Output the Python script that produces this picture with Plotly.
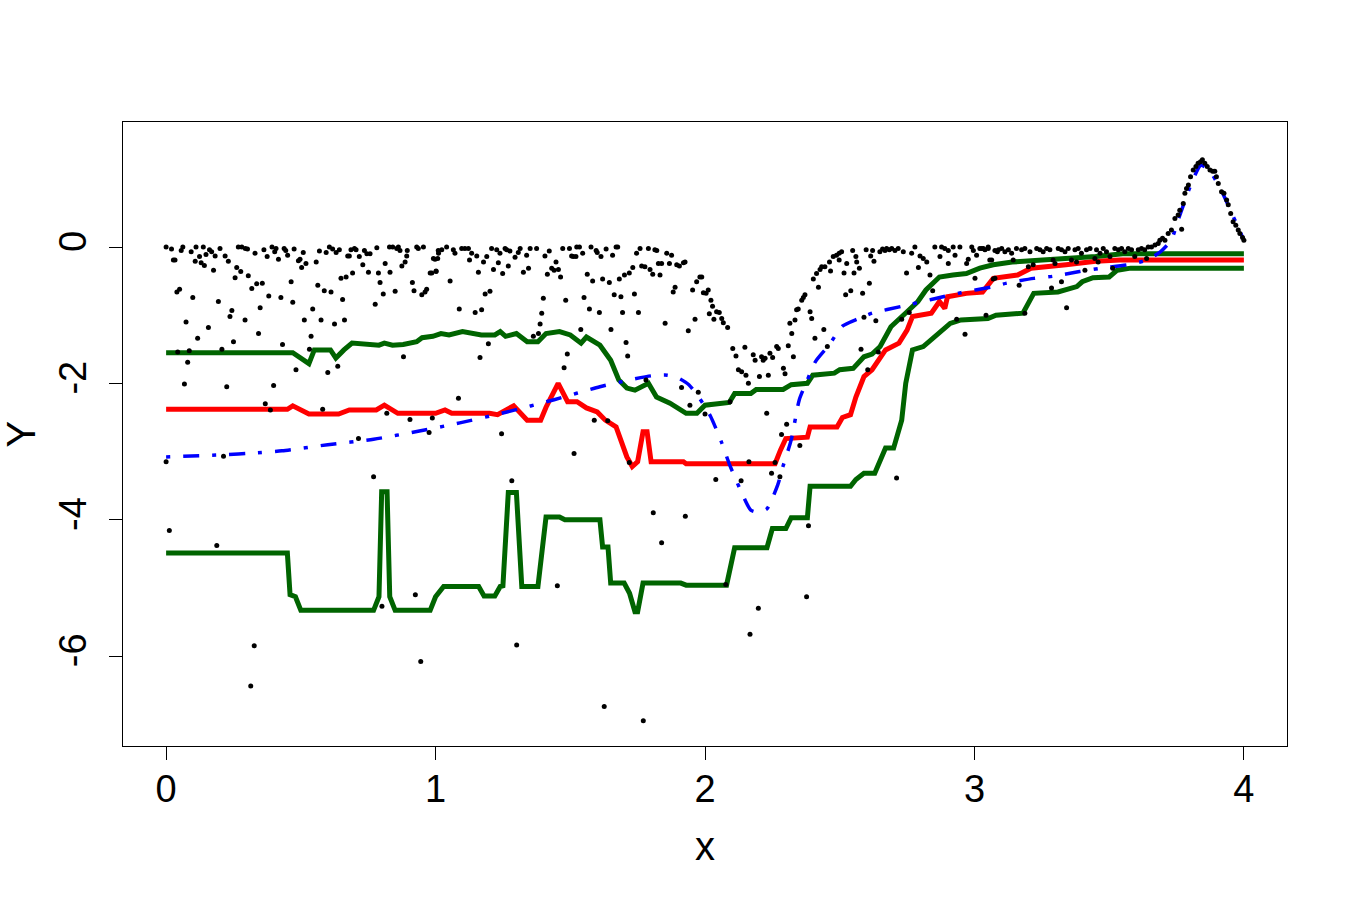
import plotly.graph_objects as go

# ---------------- data ----------------
obs_x = [
    0.00, 0.02, 0.027, 0.033, 0.04, 0.05, 0.056, 0.062, 0.043, 0.068, 0.074, 0.080, 0.086, 0.093, 0.099, 0.108,
    0.111, 0.117, 0.124, 0.130, 0.138, 0.142, 0.148, 0.157, 0.161, 0.169, 0.176, 0.182, 0.194, 0.200, 0.207,
    0.219, 0.225, 0.231, 0.237, 0.244, 0.250, 0.256, 0.262, 0.268, 0.277, 0.281, 0.293, 0.294, 0.302, 0.305,
    0.318, 0.330, 0.336, 0.343, 0.349, 0.357, 0.363, 0.368, 0.375, 0.381, 0.387, 0.393, 0.399, 0.403, 0.408,
    0.417, 0.426, 0.432, 0.438, 0.444, 0.451, 0.464, 0.470, 0.475, 0.482, 0.491, 0.497, 0.503, 0.509, 0.513,
    0.519, 0.532, 0.538, 0.544, 0.557, 0.563, 0.569, 0.575, 0.581, 0.587, 0.594, 0.600, 0.606, 0.612, 0.618,
    0.625, 0.631, 0.637, 0.643, 0.649, 0.655, 0.662, 0.668, 0.674, 0.680, 0.686, 0.692, 0.699, 0.705, 0.717,
    0.730, 0.736, 0.745, 0.751, 0.757, 0.776, 0.782, 0.788, 0.794, 0.806, 0.813, 0.819, 0.829, 0.831, 0.841,
    0.850, 0.856, 0.862, 0.868, 0.875, 0.881, 0.887, 0.893, 0.895, 0.905, 0.914, 0.920, 0.930, 0.936, 0.949,
    0.955, 0.961, 0.967, 0.980, 0.988, 0.998, 1.002, 1.008, 1.010,
    0.00, 0.012, 0.188, 0.213, 0.314, 0.327, 0.714, 0.770, 0.801, 0.925, 0.945, 0.976,
    0.986, 1.002, 0.992, 1.011, 1.023, 1.041, 1.054, 1.066, 1.072, 1.085, 1.088, 1.097, 1.109, 1.122, 1.126,
    1.134, 1.147, 1.153, 1.159, 1.165, 1.171, 1.178, 1.184, 1.190, 1.196, 1.202, 1.208, 1.215, 1.227, 1.233,
    1.239, 1.249, 1.258, 1.264, 1.270, 1.276, 1.295, 1.307, 1.314, 1.326, 1.338, 1.345, 1.351, 1.363, 1.375,
    1.382, 1.388, 1.394, 1.400, 1.406, 1.415, 1.422, 1.431, 1.440, 1.447, 1.456, 1.464, 1.472, 1.477, 1.483,
    1.489, 1.497, 1.505, 1.511, 1.521, 1.524, 1.534, 1.539, 1.546, 1.551, 1.563, 1.571, 1.577, 1.583, 1.589,
    1.596, 1.600, 1.608, 1.614, 1.620, 1.633, 1.639, 1.645, 1.651, 1.657, 1.663, 1.670, 1.676, 1.682, 1.688,
    1.694, 1.701, 1.707, 1.713, 1.719, 1.732, 1.738, 1.746, 1.753, 1.759, 1.765, 1.777, 1.781, 1.790, 1.796,
    1.806, 1.814, 1.821, 1.827, 1.833, 1.839, 1.852, 1.858, 1.868, 1.876, 1.882, 1.889, 1.895, 1.905, 1.913,
    1.920, 1.926, 1.938, 1.944, 1.954, 1.963, 1.969, 1.975, 1.981, 1.988, 1.994, 2.004, 2.012, 2.016, 2.022,
    2.028, 2.033, 2.043, 2.053, 2.062, 2.068, 2.084, 2.093, 2.103, 2.115, 2.124, 2.136, 2.148, 2.152, 2.161,
    2.000,
    1.245, 1.283, 1.301, 1.452, 1.514, 1.719, 1.626, 1.771, 1.808, 1.839, 1.927, 2.040, 2.077, 2.134, 2.163,
    2.167,
    2.198, 2.247, 2.260, 2.278, 2.284, 2.303, 2.352, 2.377, 2.384, 2.711,
    2.179, 2.186, 2.202, 2.210, 2.216, 2.223, 2.229, 2.235, 2.241, 2.251, 2.266, 2.272, 2.291, 2.297, 2.309,
    2.315, 2.322, 2.328, 2.334, 2.340, 2.346, 2.359, 2.365, 2.371, 2.390, 2.396, 2.408, 2.402, 2.414, 2.421,
    2.427, 2.441, 2.433, 2.445, 2.454, 2.462, 2.466, 2.476, 2.488, 2.498, 2.507, 2.498, 2.516, 2.522, 2.526,
    2.541, 2.548, 2.553, 2.560, 2.563, 2.573, 2.579, 2.585, 2.590, 2.598, 2.604, 2.610, 2.615, 2.622, 2.627,
    2.634, 2.643, 2.649, 2.659, 2.668, 2.674, 2.684, 2.693, 2.705, 2.717, 2.730, 2.736, 2.748, 2.758, 2.767,
    2.779, 2.792, 2.798, 2.810, 2.823, 2.835, 2.845, 2.853, 2.872, 2.878, 2.890, 2.903, 2.903, 2.921, 2.928,
    2.934, 2.946, 2.965, 2.971, 2.977, 2.990, 2.996, 3.002, 3.008, 3.020, 3.033, 3.043, 3.051, 3.057, 3.070,
    3.076, 3.085,
    3.027, 3.039, 3.051, 3.064, 3.076, 3.089, 3.101, 3.113, 3.126, 3.138, 3.144, 3.156, 3.166, 3.175, 3.187,
    3.187, 3.200, 3.206, 3.218, 3.231, 3.243, 3.255, 3.268, 3.280, 3.286, 3.292, 3.299, 3.311, 3.323, 3.323,
    3.336, 3.342, 3.348, 3.360, 3.373, 3.379, 3.385, 3.397, 3.410, 3.416, 3.429, 3.447, 3.453, 3.459, 3.466,
    3.478, 3.490, 3.503, 3.513, 3.521, 3.534, 3.546, 3.558, 3.571, 3.583, 3.595, 3.608, 3.620, 3.632, 3.639,
    3.645, 3.657, 3.670, 3.682, 3.688, 3.698, 3.707, 3.719, 3.731, 3.744, 3.756, 3.762, 3.769, 3.775, 3.781,
    3.787, 3.794, 3.802, 3.812, 3.822, 3.830, 3.839, 3.846, 3.855, 3.864, 3.874, 3.884, 3.892, 3.898, 3.905,
    3.917, 3.926, 3.936, 3.942, 3.951, 3.960, 3.970, 3.979, 3.985, 3.995, 4.000,
]
obs_y = [
    0.00, -0.03, -0.19, -0.19, -0.66, -0.62, -0.05, 0.00, -1.54, -2.01, -1.10, -1.69, -1.52, -0.07, -0.74, -0.21,
    0.00, -1.34, -0.14, -0.23, 0.00, -0.27, -0.11, -1.18, -0.04, -0.07, -0.34, -0.13, -0.80, -0.02, -1.50,
    -0.13, -2.05, -0.21, -1.02, -0.93, -1.39, -0.45, -0.30, 0.00, -0.36, 0.00, -1.07, -0.02, -0.03, -0.42,
    -0.61, -0.09, -0.54, -1.27, -0.89, -0.53, -0.04, -2.30, -0.14, -0.72, -2.39, 0.00, -2.03, -0.07, -0.02,
    -0.18, -0.74, -1.43, -0.02, -0.05, -0.12, -0.51, -0.81, -0.03, -1.80, -0.20, -0.18, -0.30, -0.08, -1.07,
    -0.24, -1.50, -1.31, -0.91, -0.22, -0.56, -0.06, -1.07, -2.38, -0.64, -0.08, -1.84, 0.00, -0.66, -0.03,
    -1.13, -0.08, -1.75, -0.04, -0.46, -0.77, -1.07, -0.44, -0.13, -0.13, -0.04, -0.38, -0.02, -0.04, -0.14,
    -0.26, -0.05, -0.10, -0.37, -0.10, -0.84, -0.01, -0.38, -0.52, -0.69, -0.24, -2.44, 0.00, -0.37, 0.00,
    -0.65, -0.02, 0.00, -0.05, -0.28, -1.61, -0.22, -0.13, -0.05, -2.53, -0.52, -0.64, 0.00, -0.02, -0.70,
    0.00, -0.66, -0.62, -0.38, -2.51, -0.18, -0.35, -0.17, -0.05,
    -3.15, -4.16, -4.38, -3.07, -6.44, -5.85, -2.81, -3.37, -5.27, -5.10, -6.08, -2.72,
    -0.38, -0.36, -0.17, -0.09, -0.04, 0.00, -0.50, -0.04, -0.09, -2.22, -0.91, -0.02, -0.02, -0.02, -0.19,
    -0.09, -0.96, -0.13, -0.37, -1.62, -0.92, -0.22, -0.69, -0.14, -1.42, -0.65, -0.02, -0.33, -0.04, -0.23,
    -0.09, -0.39, -0.02, -0.04, -0.28, -0.06, -0.15, -0.08, -0.02, -0.37, -0.12, -0.31, -0.02, -1.31, -0.02,
    -1.27, -1.13, -0.97, -0.75, -0.13, -0.40, -0.06, -0.31, -0.34, -0.22, -0.33, -0.44, -0.02, -1.77, -0.78,
    -1.57, -0.02, -0.13, -0.14, -0.14, 0.00, 0.00, -1.21, -0.09, -0.74, -0.40, -0.91, 0.00, -0.50, -2.54,
    -0.05, -0.08, -0.96, -0.14, -0.47, -0.03, -2.55, -0.52, -1.21, -0.12, -0.70, 0.00, 0.00, -0.47, -0.73,
    -0.96, -0.41, -1.40, -1.60, -0.38, -0.30, -0.69, -0.09, -0.96, -0.02, -0.28, -0.29, -1.95, -0.02, -0.33,
    -0.40, -0.04, -0.05, -0.24, -0.41, -0.24, -1.12, -0.09, -0.24, -0.12, -0.66, -0.59, -0.26, -0.28, -2.06,
    -0.23, -0.22, -1.23, -2.32, -0.63, -1.06, -0.51, -2.13, -0.44, -0.44, -0.67, -0.68, -0.63, -0.98, -0.78,
    -0.87, -1.06, -0.95, -0.96, -1.05, -1.11, -1.18, -2.27, -1.49, -1.60, -1.80, -1.83, -1.47, -1.88, -2.00,
    -2.45,
    -2.74, -3.43, -5.84, -4.97, -3.03, -3.16, -6.74, -6.95, -3.90, -4.34, -3.95, -3.41, -4.95, -3.43, -3.15,
    -5.68,
    -5.30, -3.32, -3.16, -3.37, -2.75, -2.60, -2.91, -5.13, -4.09, -3.39,
    -1.58, -1.66, -1.90, -1.61, -1.66, -1.63, -2.44, -1.88, -1.56, -1.62, -1.46, -1.49, -1.78, -1.86, -1.45,
    -1.12, -1.27, -1.61, -1.07, -0.92, -0.91, -0.78, -0.74, -0.70, -0.95, -1.05, -1.34, -0.47, -0.39, -0.59,
    -0.33, -1.21, -0.29, -0.29, -1.46, -0.22, -0.35, -0.14, -0.12, -0.09, -0.07, -0.19, -0.38, -0.70, -0.24,
    -0.64, -0.05, -0.38, -0.14, -0.22, -0.31, -1.50, -0.68, -1.03, -0.04, -1.80, -0.53, -0.13, -0.05, -0.21,
    -1.08, -1.54, -0.07, -0.03, -0.05, -0.02, -0.04, -0.02, -0.05, -0.02, -1.06, -0.07, -0.38, -0.96, -0.09,
    0.00, -0.30, -0.13, -0.17, -0.22, -0.41, -0.64, 0.00, -0.14, 0.00, -0.02, -0.24, -0.05, 0.00, -0.12,
    -1.06, 0.00, -1.28, -0.24, -0.18, 0.00, -0.05, -0.46, -0.12, -0.02, -0.02, -1.00, 0.00, -0.19, -0.47,
    -0.05, -0.07,
    -0.02, -0.04, -0.02, -0.19, -0.46, -0.04, -0.02, -0.07, -0.04, -0.09, -0.19, -0.02, -0.56, -0.04, -0.02,
    -0.97, -0.29, -0.07, -0.26, -0.02, -0.04, -0.07, -0.02, -0.04, -0.60, -0.19, -0.24, -0.02, -0.04, -0.51,
    -0.07, -0.89, -0.02, -0.19, -0.04, -0.22, -0.02, -0.09, -0.34, -0.04, -0.02, -0.17, -0.04, -0.22, -0.09,
    -0.02, -0.07, -0.14, -0.31, -0.02, -0.04, -0.02, -0.07, -0.02, -0.04, -0.14, -0.04, -0.02, -0.04, -0.17,
    0.00, 0.00, 0.03, 0.05, 0.10, 0.13, 0.10, 0.20, 0.25, 0.42, 0.47, 0.54, 0.26, 0.64, 0.79,
    0.86, 0.91, 1.03, 1.13, 1.18, 1.23, 1.25, 1.28, 1.23, 1.18, 1.13, 1.11, 1.11, 1.03, 0.93,
    0.81, 0.79, 0.69, 0.62, 0.49, 0.37, 0.32, 0.25, 0.20, 0.14, 0.10,
]

# true curve (blue dot-dash)
true_x = [0, 0.2, 0.34, 0.43, 0.60, 0.77, 0.94, 1.09, 1.265, 1.44, 1.61, 1.72, 1.80, 1.86, 1.90, 1.94,
          1.98, 2.02, 2.06, 2.09, 2.13, 2.17, 2.20, 2.23, 2.27, 2.29, 2.32, 2.35, 2.38, 2.41, 2.46, 2.51,
          2.57, 2.62, 2.73, 2.84, 2.95, 3.07, 3.12, 3.22, 3.29, 3.39, 3.47, 3.57, 3.64, 3.69, 3.73, 3.76,
          3.80, 3.84, 3.87, 3.91, 3.95, 4.0]
true_y = [-3.08, -3.05, -3.02, -2.99, -2.90, -2.82, -2.70, -2.58, -2.42, -2.24, -2.05, -1.95, -1.89, -1.88,
          -1.92, -2.02, -2.22, -2.48, -2.85, -3.18, -3.55, -3.86, -3.89, -3.84, -3.49, -3.21, -2.83, -2.24,
          -1.95, -1.68, -1.44, -1.16, -1.05, -0.97, -0.87, -0.77, -0.67, -0.58, -0.53, -0.46, -0.43, -0.36,
          -0.31, -0.26, -0.19, -0.07, 0.10, 0.44, 0.88, 1.20, 1.13, 0.88, 0.54, 0.10]

# median fit (red)
med_x = [0, 0.45, 0.47, 0.53, 0.64, 0.68, 0.78, 0.81, 0.86, 1.0, 1.035, 1.06, 1.20, 1.23, 1.29, 1.34,
         1.39, 1.41, 1.455, 1.49, 1.525, 1.56, 1.60, 1.63, 1.67, 1.71, 1.73, 1.75, 1.77, 1.785, 1.80,
         1.92, 1.93, 2.26, 2.28, 2.30, 2.38, 2.39, 2.49, 2.51, 2.54, 2.56, 2.59, 2.62, 2.67, 2.72, 2.75,
         2.77, 2.84, 2.87, 2.89, 2.90, 2.97, 3.03, 3.07, 3.16, 3.21, 3.27, 3.34, 3.45, 3.54, 4.0]
med_y = [-2.38, -2.38, -2.33, -2.45, -2.45, -2.39, -2.39, -2.32, -2.44, -2.44, -2.39, -2.44, -2.44, -2.46,
         -2.33, -2.54, -2.54, -2.35, -2.00, -2.27, -2.27, -2.36, -2.42, -2.54, -2.64, -3.08, -3.22, -3.15,
         -2.71, -2.71, -3.15, -3.15, -3.18, -3.18, -2.98, -2.81, -2.79, -2.64, -2.64, -2.50, -2.46, -2.20,
         -1.90, -1.80, -1.51, -1.41, -1.22, -1.02, -0.97, -0.80, -0.90, -0.73, -0.68, -0.66, -0.46, -0.41,
         -0.31, -0.29, -0.26, -0.21, -0.19, -0.19]

# upper quantile fit (dark green)
upq_x = [0, 0.47, 0.53, 0.55, 0.61, 0.63, 0.66, 0.69, 0.79, 0.81, 0.84, 0.88, 0.93, 0.95, 0.99, 1.02,
         1.05, 1.10, 1.17, 1.22, 1.24, 1.26, 1.30, 1.34, 1.38, 1.41, 1.46, 1.50, 1.54, 1.56, 1.61, 1.65,
         1.68, 1.71, 1.74, 1.79, 1.82, 1.87, 1.93, 1.97, 2.00, 2.09, 2.11, 2.17, 2.19, 2.29, 2.32, 2.38,
         2.40, 2.48, 2.50, 2.55, 2.59, 2.62, 2.65, 2.69, 2.75, 2.79, 2.82, 2.87, 2.92, 2.97, 3.02, 3.07,
         3.14, 3.27, 3.45, 3.55, 4.0]
upq_y = [-1.55, -1.55, -1.71, -1.51, -1.51, -1.63, -1.51, -1.41, -1.44, -1.41, -1.44, -1.43, -1.39, -1.33,
         -1.31, -1.27, -1.29, -1.24, -1.29, -1.29, -1.24, -1.31, -1.27, -1.39, -1.39, -1.27, -1.24, -1.29,
         -1.41, -1.32, -1.44, -1.66, -1.95, -2.07, -2.10, -2.00, -2.20, -2.29, -2.44, -2.44, -2.32, -2.28,
         -2.15, -2.15, -2.09, -2.09, -2.02, -2.00, -1.88, -1.85, -1.80, -1.78, -1.61, -1.57, -1.46, -1.17,
         -0.95, -0.80, -0.63, -0.44, -0.41, -0.39, -0.31, -0.26, -0.22, -0.19, -0.14, -0.10, -0.10]

# lower quantile fit (dark green)
loq_x = [0, 0.45, 0.46, 0.48, 0.50, 0.77, 0.79, 0.80, 0.82, 0.83, 0.85, 0.98, 1.00, 1.02, 1.03, 1.16,
         1.18, 1.22, 1.24, 1.25, 1.27, 1.30, 1.32, 1.38, 1.41, 1.46, 1.48, 1.61, 1.62, 1.64, 1.65, 1.70,
         1.72, 1.74, 1.75, 1.77, 1.91, 1.93, 2.08, 2.11, 2.23, 2.25, 2.30, 2.32, 2.38, 2.39, 2.54, 2.56,
         2.59, 2.63, 2.67, 2.70, 2.73, 2.745, 2.77, 2.81, 2.85, 2.88, 2.91, 2.95, 3.05, 3.08, 3.18, 3.22,
         3.31, 3.38, 3.40, 3.44, 3.50, 3.53, 3.58, 4.0]
loq_y = [-4.49, -4.49, -5.10, -5.13, -5.33, -5.33, -5.13, -3.59, -3.59, -5.13, -5.33, -5.33, -5.13, -5.03,
         -4.98, -4.98, -5.12, -5.12, -4.98, -4.97, -3.60, -3.60, -4.98, -4.98, -3.96, -3.96, -4.00, -4.00,
         -4.40, -4.40, -4.93, -4.93, -5.08, -5.35, -5.35, -4.93, -4.93, -4.96, -4.96, -4.41, -4.41, -4.13,
         -4.13, -3.97, -3.97, -3.51, -3.51, -3.41, -3.32, -3.32, -2.95, -2.95, -2.54, -2.00, -1.51, -1.46,
         -1.32, -1.22, -1.12, -1.07, -1.05, -1.00, -0.97, -0.68, -0.66, -0.58, -0.51, -0.45, -0.44, -0.34,
         -0.31, -0.31]

x_ticks = [0, 1, 2, 3, 4]
y_ticks = [-6, -4, -2, 0]

FONT = "Liberation Sans, Arial, Helvetica, sans-serif"
DKGREEN = "#006400"

fig = go.Figure()
fig.add_trace(go.Scatter(x=med_x, y=med_y, mode="lines",
                         line=dict(color="#FF0000", width=5), hoverinfo="skip"))
fig.add_trace(go.Scatter(x=upq_x, y=upq_y, mode="lines",
                         line=dict(color=DKGREEN, width=5), hoverinfo="skip"))
fig.add_trace(go.Scatter(x=loq_x, y=loq_y, mode="lines",
                         line=dict(color=DKGREEN, width=5), hoverinfo="skip"))
fig.add_trace(go.Scatter(x=true_x, y=true_y, mode="lines",
                         line=dict(color="#0000FF", width=3.5, dash="4px,13px,16px,13px",
                                   shape="spline", smoothing=0.6), hoverinfo="skip"))
fig.add_trace(go.Scatter(x=obs_x, y=obs_y, mode="markers",
                         marker=dict(color="black", size=5, line=dict(width=0))))

axis_common = dict(showgrid=False, zeroline=False, showline=True, mirror=True,
                   linecolor="black", linewidth=1.3, ticks="outside", ticklen=13,
                   tickwidth=1.3, tickcolor="black",
                   tickfont=dict(family=FONT, size=38, color="black"))

fig.update_xaxes(range=[-0.16, 4.16], tickvals=x_ticks, ticktext=[str(v) for v in x_ticks],
                 ticklabelstandoff=-4, **axis_common)
fig.update_yaxes(range=[-7.32, 1.834], tickvals=y_ticks, ticktext=[str(v) for v in y_ticks],
                 tickangle=-90, ticklabelstandoff=8, **axis_common)

fig.update_layout(
    width=1350, height=900,
    margin=dict(l=123, r=63, t=122, b=154),
    paper_bgcolor="white", plot_bgcolor="white",
    showlegend=False,
    font=dict(family=FONT, color="black"),
    annotations=[
        dict(text="x", xref="paper", yref="paper", x=0.5, y=-0.16,
             xanchor="center", yanchor="middle", showarrow=False,
             font=dict(family=FONT, size=40, color="black")),
        dict(text="Y", xref="paper", yref="paper", x=-0.088, y=0.5,
             xanchor="center", yanchor="middle", showarrow=False, textangle=-90,
             font=dict(family=FONT, size=40, color="black")),
    ],
)

fig.write_html("out.html")
